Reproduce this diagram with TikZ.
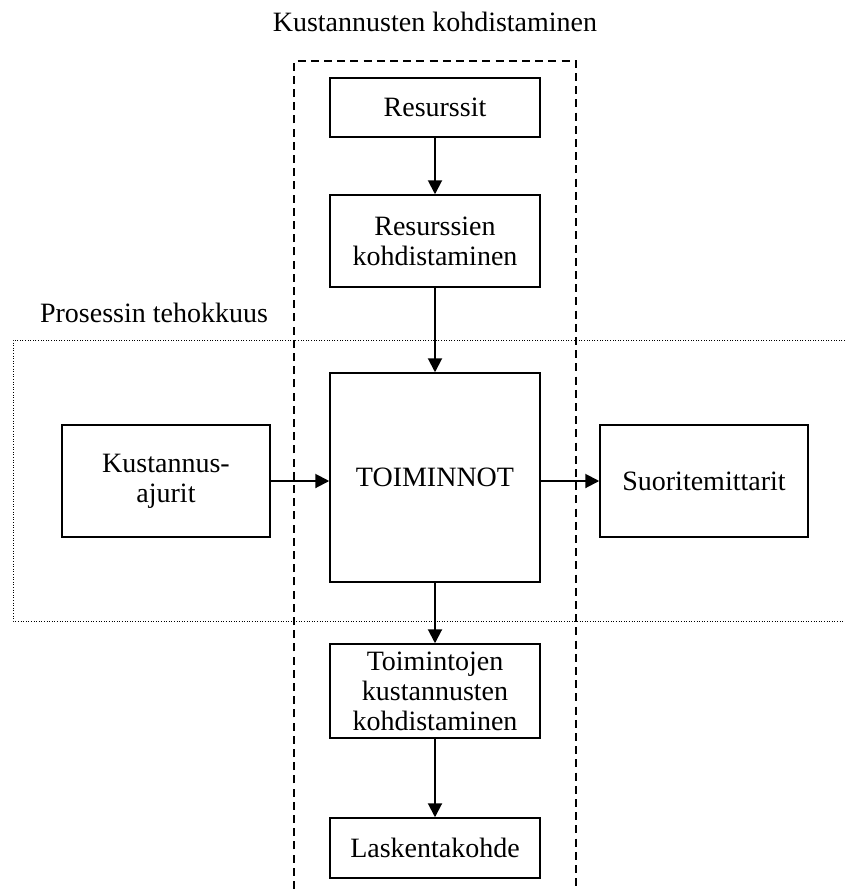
\documentclass[tikz,border=0pt]{standalone}
\usepackage{fontspec}
\setmainfont{Liberation Serif}
\usetikzlibrary{arrows.meta}
\begin{document}
\begin{tikzpicture}[x=0.5pt,y=-0.5pt,
  every node/.style={font=\fontsize{14}{15}\selectfont},
  box/.style={draw, line width=0.75pt, align=center, inner sep=0pt, minimum width=105pt},
  flow/.style={-{Triangle[length=7pt,width=7pt]}, line width=1pt},
  frame/.style={line width=0.7pt, dash pattern=on 4pt off 2.6pt},
  band/.style={line width=0.5pt, dash pattern=on 0.5pt off 0.8pt}]
  \useasboundingbox (0,0) rectangle (845,889);

  % group outlines
  \draw[frame] (294,889) -- (294,61) -- (576,61) -- (576,889);
  \draw[band] (845,340) -- (13,340) -- (13,621) -- (845,621);

  % group captions
  \node (cap1) at (435,22) {Kustannusten kohdistaminen};
  \node (cap2) at (154,313) {Prosessin tehokkuus};

  % boxes
  \node[box, minimum height=29.5pt] (res) at (435,107.5) {Resurssit};
  \node[box, minimum height=46pt] (rk) at (435,241) {Resurssien\\kohdistaminen};
  \node[box, minimum height=104.5pt] (toim) at (435,477.5) {TOIMINNOT};
  \node[box, minimum width=104pt, minimum height=56pt] (kust) at (166,481) {Kustannus-\\ajurit};
  \node[box, minimum width=104pt, minimum height=56pt] (suor) at (704,481) {Suoritemittarit};
  \node[box, minimum height=47pt] (tk) at (435,691) {Toimintojen\\kustannusten\\kohdistaminen};
  \node[box, minimum height=30pt] (lk) at (435,848) {Laskentakohde};

  % connectors
  \draw[flow] (res.south) -- (rk.north);
  \draw[flow] (rk.south) -- (toim.north);
  \draw[flow] (kust.east) -- (kust.east -| toim.west);
  \draw[flow] (suor.west -| toim.east) -- (suor.west);
  \draw[flow] (toim.south) -- (tk.north);
  \draw[flow] (tk.south) -- (lk.north);
\end{tikzpicture}
\end{document}
